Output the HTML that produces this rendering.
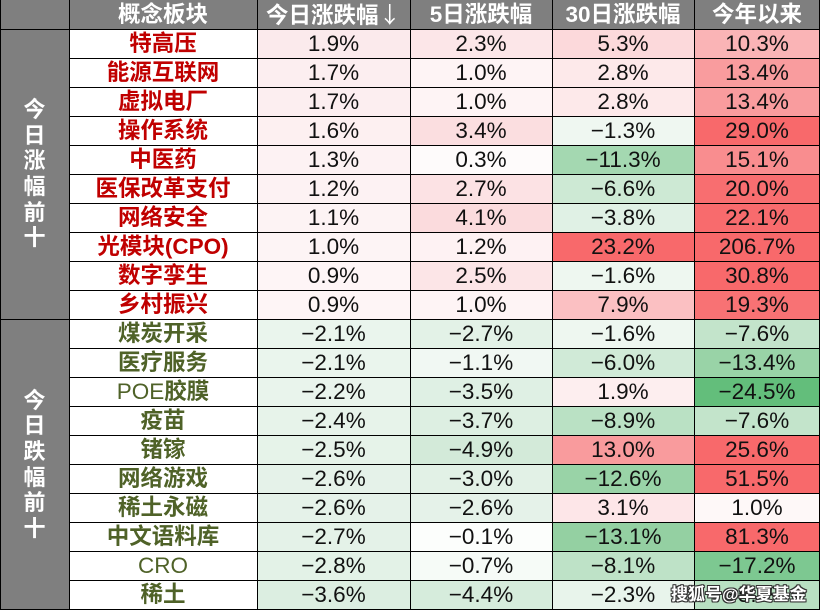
<!DOCTYPE html>
<html><head><meta charset="utf-8">
<style>
html,body{margin:0;padding:0;background:#fff;}
#w{position:relative;width:820px;height:610px;overflow:hidden;background:#fff;font-family:"Liberation Sans","Noto Sans CJK SC",sans-serif;}
.hd{position:absolute;top:0;height:29px;line-height:29px;text-align:center;color:#fff;font-weight:bold;font-size:22.5px;background:#7f7f7f;}
.grp{position:absolute;left:0;width:69px;background:#7f7f7f;color:#fff;font-weight:bold;font-size:22px;display:flex;align-items:center;justify-content:center;}
.grp span{display:block;width:24px;line-height:25.6px;text-align:center;}
.r{position:absolute;left:0;width:820px;height:29px;}
.r>div{position:absolute;top:0;height:29px;line-height:30px;text-align:center;font-size:22.5px;color:#111;}
.r>div:nth-child(1){left:69px;width:188px;font-weight:bold;font-size:22.5px;}
.r>div:nth-child(2){left:257px;width:153px;}
.r>div:nth-child(3){left:410px;width:142px;}
.r>div:nth-child(4){left:552px;width:142px;}
.r>div:nth-child(5){left:694px;width:126px;}
.up>div:nth-child(1){color:#c00000;}
.dn>div:nth-child(1){color:#4f6228;}
.h{position:absolute;left:0;width:820px;height:1px;background:#000;}
.v{position:absolute;top:0;width:1px;height:610px;background:#000;}
.n{font-weight:normal;}
.wm{position:absolute;left:671px;top:580px;font-size:17px;font-weight:bold;color:#fff;white-space:nowrap;font-family:"Liberation Sans","Noto Sans CJK SC",sans-serif;
text-shadow:1px 0 0 #333,-1px 0 0 #333,0 1px 0 #333,0 -1px 0 #333,1px 1px 0 #333,-1px -1px 0 #333,1px -1px 0 #333,-1px 1px 0 #333;}
</style></head><body>
<div id="w">
<div class="hd" style="left:0;width:69px;"></div>
<div class="hd" style="left:69px;width:188px;">概念板块</div>
<div class="hd" style="left:257px;width:153px;">今日涨跌幅<span style="font-family:'Noto Sans CJK SC',sans-serif;font-weight:normal">↓</span></div>
<div class="hd" style="left:410px;width:142px;">5日涨跌幅</div>
<div class="hd" style="left:552px;width:142px;">30日涨跌幅</div>
<div class="hd" style="left:694px;width:126px;">今年以来</div>

<div class="grp" style="top:29px;height:290px;"><div><span>今</span><span>日</span><span>涨</span><span>幅</span><span>前</span><span>十</span></div></div>
<div class="grp" style="top:319px;height:291px;"><div><span>今</span><span>日</span><span>跌</span><span>幅</span><span>前</span><span>十</span></div></div>

<div class="r up" style="top:29px"><div>特高压</div><div style="background:#fbeaec">1.9%</div><div style="background:#fce6e8">2.3%</div><div style="background:#fcd9db">5.3%</div><div style="background:#fab4b6">10.3%</div></div>
<div class="r up" style="top:58px"><div>能源互联网</div><div style="background:#fceef0">1.7%</div><div style="background:#fef4f5">1.0%</div><div style="background:#fde9ea">2.8%</div><div style="background:#f99c9e">13.4%</div></div>
<div class="r up" style="top:87px"><div>虚拟电厂</div><div style="background:#fceef0">1.7%</div><div style="background:#fef4f5">1.0%</div><div style="background:#fde9ea">2.8%</div><div style="background:#f99c9e">13.4%</div></div>
<div class="r up" style="top:116px"><div>操作系统</div><div style="background:#fdf0f1">1.6%</div><div style="background:#fbdee0">3.4%</div><div style="background:#eff7f1">−1.3%</div><div style="background:#f8696b">29.0%</div></div>
<div class="r up" style="top:145px"><div>中医药</div><div style="background:#fdf2f3">1.3%</div><div style="background:#fefbfb">0.3%</div><div style="background:#a4d8b1">−11.3%</div><div style="background:#f98d8f">15.1%</div></div>
<div class="r up" style="top:174px"><div>医保改革支付</div><div style="background:#fdf2f3">1.2%</div><div style="background:#fce2e4">2.7%</div><div style="background:#cde9d4">−6.6%</div><div style="background:#f86e70">20.0%</div></div>
<div class="r up" style="top:203px"><div>网络安全</div><div style="background:#fdf3f4">1.1%</div><div style="background:#fbdbdd">4.1%</div><div style="background:#e0f1e5">−3.8%</div><div style="background:#f86b6d">22.1%</div></div>
<div class="r up" style="top:232px"><div>光模块(CPO)</div><div style="background:#fdf4f5">1.0%</div><div style="background:#fef2f3">1.2%</div><div style="background:#f8696b">23.2%</div><div style="background:#f8696b">206.7%</div></div>
<div class="r up" style="top:261px"><div>数字孪生</div><div style="background:#fef5f6">0.9%</div><div style="background:#fce5e7">2.5%</div><div style="background:#eef7f0">−1.6%</div><div style="background:#f8696b">30.8%</div></div>
<div class="r up" style="top:290px"><div>乡村振兴</div><div style="background:#fef5f6">0.9%</div><div style="background:#fef4f5">1.0%</div><div style="background:#fbc0c2">7.9%</div><div style="background:#f87274">19.3%</div></div>

<div class="r dn" style="top:319px"><div>煤炭开采</div><div style="background:#eaf5ed">−2.1%</div><div style="background:#e3f2e7">−2.7%</div><div style="background:#eef7f0">−1.6%</div><div style="background:#c3e4cb">−7.6%</div></div>
<div class="r dn" style="top:348px"><div>医疗服务</div><div style="background:#eaf5ed">−2.1%</div><div style="background:#f1f8f3">−1.1%</div><div style="background:#d0ead7">−6.0%</div><div style="background:#99d3a7">−13.4%</div></div>
<div class="r dn" style="top:377px"><div><span class="n">POE</span>胶膜</div><div style="background:#e9f4ec">−2.2%</div><div style="background:#dff0e4">−3.5%</div><div style="background:#fdeeef">1.9%</div><div style="background:#63be7b">−24.5%</div></div>
<div class="r dn" style="top:406px"><div>疫苗</div><div style="background:#e7f3ea">−2.4%</div><div style="background:#ddefe2">−3.7%</div><div style="background:#bae1c4">−8.9%</div><div style="background:#c3e4cb">−7.6%</div></div>
<div class="r dn" style="top:435px"><div>锗镓</div><div style="background:#e6f3e9">−2.5%</div><div style="background:#d3ead9">−4.9%</div><div style="background:#f99b9d">13.0%</div><div style="background:#f8696b">25.6%</div></div>
<div class="r dn" style="top:464px"><div>网络游戏</div><div style="background:#e5f2e9">−2.6%</div><div style="background:#e2f1e6">−3.0%</div><div style="background:#99d3a7">−12.6%</div><div style="background:#f8696b">51.5%</div></div>
<div class="r dn" style="top:493px"><div>稀土永磁</div><div style="background:#e5f2e9">−2.6%</div><div style="background:#e5f2e9">−2.6%</div><div style="background:#fde6e8">3.1%</div><div style="background:#fef8f8">1.0%</div></div>
<div class="r dn" style="top:522px"><div>中文语料库</div><div style="background:#e4f2e8">−2.7%</div><div style="background:#fcfefc">−0.1%</div><div style="background:#94d0a2">−13.1%</div><div style="background:#f8696b">81.3%</div></div>
<div class="r dn" style="top:551px"><div style="font-weight:normal">CRO</div><div style="background:#e3f2e7">−2.8%</div><div style="background:#f6fbf7">−0.7%</div><div style="background:#bee2c7">−8.1%</div><div style="background:#7dc891">−17.2%</div></div>
<div class="r dn" style="top:580px"><div>稀土</div><div style="background:#dceee1">−3.6%</div><div style="background:#d6ecdc">−4.4%</div><div style="background:#e8f4eb">−2.3%</div><div style="background:#b8e0c2">−5.9%</div></div>

<div class="h" style="top:29px"></div>
<div class="h" style="top:58px;left:69px;width:751px"></div>
<div class="h" style="top:87px;left:69px;width:751px"></div>
<div class="h" style="top:116px;left:69px;width:751px"></div>
<div class="h" style="top:145px;left:69px;width:751px"></div>
<div class="h" style="top:174px;left:69px;width:751px"></div>
<div class="h" style="top:203px;left:69px;width:751px"></div>
<div class="h" style="top:232px;left:69px;width:751px"></div>
<div class="h" style="top:261px;left:69px;width:751px"></div>
<div class="h" style="top:290px;left:69px;width:751px"></div>
<div class="h" style="top:319px"></div>
<div class="h" style="top:348px;left:69px;width:751px"></div>
<div class="h" style="top:377px;left:69px;width:751px"></div>
<div class="h" style="top:406px;left:69px;width:751px"></div>
<div class="h" style="top:435px;left:69px;width:751px"></div>
<div class="h" style="top:464px;left:69px;width:751px"></div>
<div class="h" style="top:493px;left:69px;width:751px"></div>
<div class="h" style="top:522px;left:69px;width:751px"></div>
<div class="h" style="top:551px;left:69px;width:751px"></div>
<div class="h" style="top:580px;left:69px;width:751px"></div>
<div class="h" style="top:609px"></div>
<div class="v" style="left:0"></div>
<div class="v" style="left:69px"></div>
<div class="v" style="left:257px"></div>
<div class="v" style="left:410px"></div>
<div class="v" style="left:552px"></div>
<div class="v" style="left:694px"></div>
<div class="v" style="left:819px"></div>

<div class="wm">搜狐号@华夏基金</div>
</div>
</body></html>
